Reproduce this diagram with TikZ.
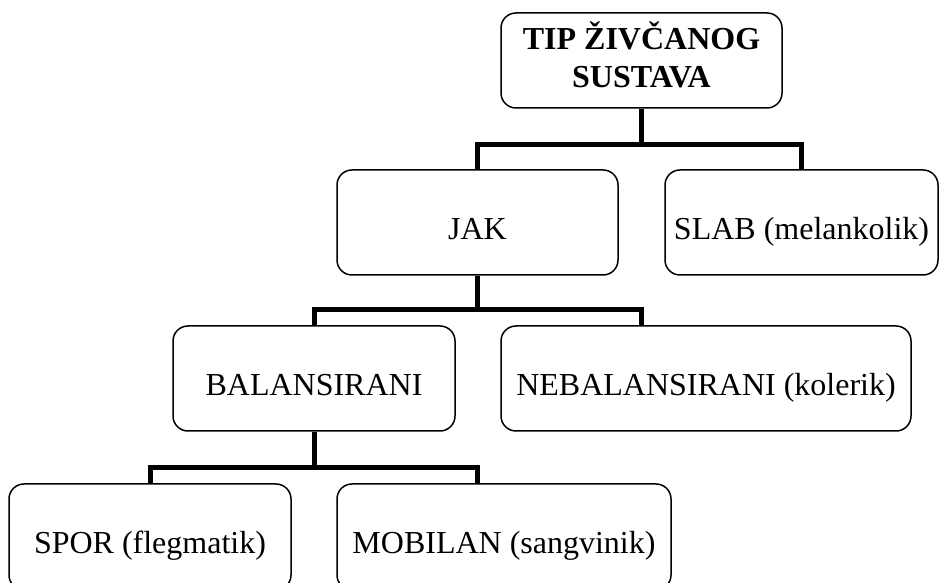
\documentclass[tikz,border=0pt]{standalone}
\usepackage{fontspec}
\setmainfont{Liberation Serif}

\begin{document}
\begin{tikzpicture}[x=1pt,y=1pt,
    box/.style={draw,line width=1.5pt,rounded corners=15pt,inner sep=0pt,
      minimum height=105pt,font=\fontsize{32}{38}\selectfont},
    typebox/.style={box,text height=41pt,text depth=7pt},
    headbox/.style={box,minimum height=95pt,align=center,
      font=\bfseries\fontsize{32}{38}\selectfont},
    conn/.style={line width=5pt}]
    \useasboundingbox (0,0) rectangle (939,583);
    \clip (0,0) rectangle (939,583);

    \node[headbox,minimum width=281pt] (tip) at (641.5,522.5) {TIP ŽIVČANOG\\SUSTAVA\rule[-12pt]{0pt}{12pt}};
    \node[typebox,minimum width=281pt] (jak) at (477.5,360.5) {JAK};
    \node[typebox,minimum width=273pt] (slab) at (801.5,360.5) {SLAB (melankolik)};
    \node[typebox,minimum width=282pt] (bal) at (314,204.5) {BALANSIRANI};
    \node[typebox,minimum width=410pt] (nebal) at (706,204.5) {NEBALANSIRANI (kolerik)};
    \node[typebox,minimum width=282pt,minimum height=106pt] (spor) at (150,46) {SPOR (flegmatik)};
    \node[typebox,minimum width=334pt,minimum height=106pt] (mob) at (504,46) {MOBILAN (sangvinik)};

    \draw[conn]
      (tip.south) -- ++(0,-37)
      (jak.north) -- ++(0,25) -| (slab.north);
    \draw[conn]
      (jak.south) -- ++(0,-35)
      (bal.north) -- ++(0,16) -| (nebal.north -| tip.south);
    \draw[conn]
      (bal.south) -- ++(0,-37)
      (spor.north) -- ++(0,16) -| (mob.north -| jak.south);
\end{tikzpicture}
\end{document}
